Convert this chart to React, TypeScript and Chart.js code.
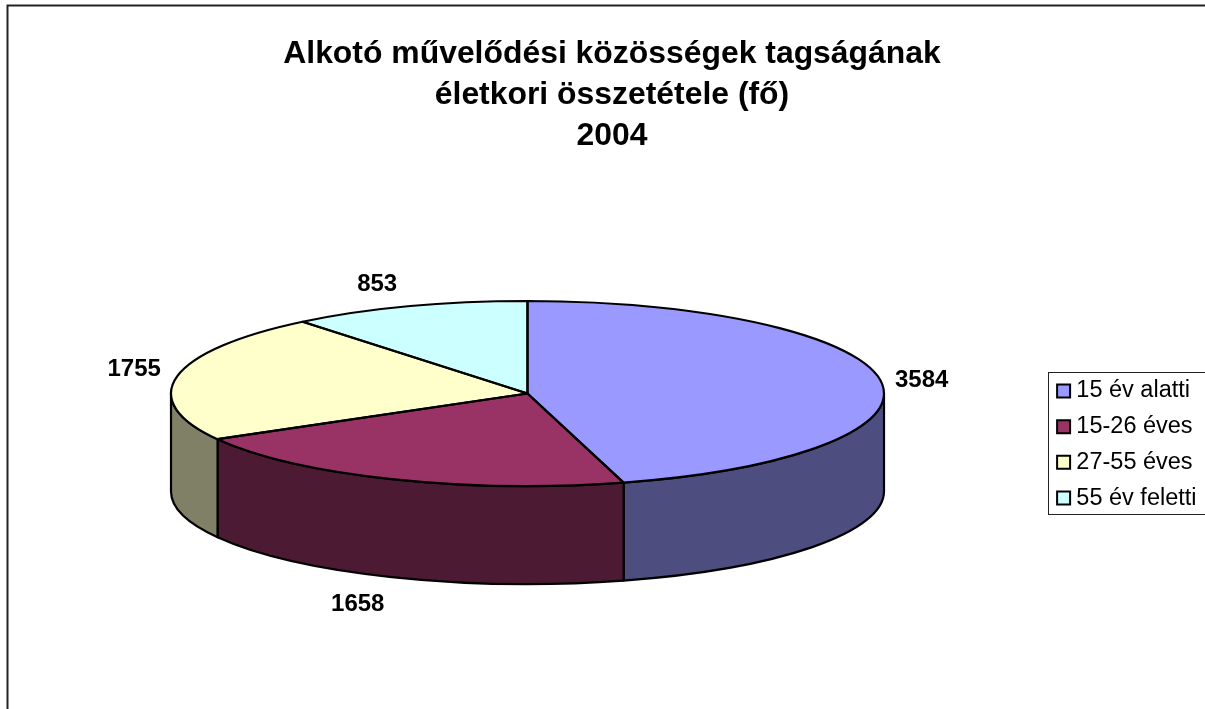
import React, { useEffect, useRef } from "react";
import { Chart, registerables } from "chart.js";

Chart.register(...registerables);

const FONT = '"Liberation Sans", Arial, sans-serif';

const categories = ["15 év alatti", "15-26 éves", "27-55 éves", "55 év feletti"];
const values = [3584, 1658, 1755, 853];
const topColors = ["#9999FF", "#993366", "#FFFFCC", "#CCFFFF"];
const sideColors = ["#4D4D80", "#4D1A33", "#808066", "#668080"];
const titleLines = ["Alkotó művelődési közösségek tagságának", "életkori összetétele (fő)", "2004"];
// outward nudges for the value labels, in pixels from the rim of the pie
const labelNudges = [
  [41, -1],
  [-34, 125],
  [-43, -7],
  [-31, -22],
];

const PIE = { cx: 527.5, cy: 393.5, rx: 356.5, ry: 92.5, depth: 98 };

const pie3d = {
  id: "pie3d",
  beforeDatasetDraw(chart: any) {
    const ctx = chart.ctx;
    const arcs = chart.getDatasetMeta(0).data;
    ctx.save();
    ctx.lineWidth = 2.2;
    ctx.strokeStyle = "#000";
    ctx.lineJoin = "round";
    arcs.forEach((arc: any, i: number) => {
      const a = Math.max(arc.startAngle, 0);
      const b = Math.min(arc.endAngle, Math.PI);
      if (b <= a) return;
      ctx.beginPath();
      ctx.ellipse(PIE.cx, PIE.cy, PIE.rx, PIE.ry, 0, a, b);
      ctx.ellipse(PIE.cx, PIE.cy + PIE.depth, PIE.rx, PIE.ry, 0, b, a, true);
      ctx.closePath();
      ctx.fillStyle = sideColors[i];
      ctx.fill();
      ctx.stroke();
    });
    ctx.restore();
    const first = arcs[0];
    ctx.save();
    ctx.translate(PIE.cx, PIE.cy);
    ctx.scale(PIE.rx / first.outerRadius, PIE.ry / first.outerRadius);
    ctx.translate(-first.x, -first.y);
  },
  afterDatasetDraw(chart: any) {
    const ctx = chart.ctx;
    ctx.restore();
    const arcs = chart.getDatasetMeta(0).data;
    ctx.save();
    ctx.lineWidth = 2.2;
    ctx.strokeStyle = "#000";
    ctx.lineJoin = "round";
    arcs.forEach((arc: any) => {
      ctx.beginPath();
      ctx.moveTo(PIE.cx, PIE.cy);
      ctx.ellipse(PIE.cx, PIE.cy, PIE.rx, PIE.ry, 0, arc.startAngle, arc.endAngle);
      ctx.closePath();
      ctx.stroke();
    });
    ctx.font = `bold 24px ${FONT}`;
    ctx.fillStyle = "#000";
    ctx.textAlign = "center";
    ctx.textBaseline = "middle";
    arcs.forEach((arc: any, i: number) => {
      const mid = (arc.startAngle + arc.endAngle) / 2;
      const x = PIE.cx + PIE.rx * Math.cos(mid) + labelNudges[i][0];
      const y = PIE.cy + PIE.ry * Math.sin(mid) + labelNudges[i][1];
      ctx.fillText(String(values[i]), x, y);
    });
    ctx.restore();
  },
  afterLayout(chart: any) {
    const legend = chart.legend;
    const h = legend.bottom - legend.top;
    legend.left = 1050.4;
    legend.right = 1205;
    legend.top = 367;
    legend.bottom = 367 + h;
  },
  afterDraw(chart: any) {
    const ctx = chart.ctx;
    ctx.save();
    ctx.strokeStyle = "#222";
    ctx.lineWidth = 2;
    ctx.strokeRect(7.5, 5.5, 1300, 800);
    ctx.lineWidth = 1;
    ctx.strokeStyle = "#222";
    ctx.strokeRect(1048.5, 372.5, 300, 142);
    ctx.restore();
  },
};

export default function App() {
  const ref = useRef<HTMLCanvasElement>(null);
  useEffect(() => {
    const chart = new Chart(ref.current!, {
      type: "pie",
      plugins: [pie3d],
      data: {
        labels: categories,
        datasets: [
          {
            data: values,
            backgroundColor: topColors,
            borderWidth: 0,
            radius: 300,
            clip: false,
          } as any,
        ],
      },
      options: {
        responsive: false,
        animation: false,
        layout: { padding: { left: 19, top: 33 } },
        plugins: {
          tooltip: { enabled: false },
          title: {
            display: true,
            text: titleLines,
            color: "#000",
            font: { family: FONT, size: 31.9, weight: "bold", lineHeight: 1.3 },
            padding: 0,
          },
          legend: {
            display: true,
            position: "right",
            align: "start",
            labels: {
              font: { family: FONT, size: 23.5 },
              color: "#000",
              usePointStyle: true,
              boxWidth: 2,
              boxHeight: 13,
              padding: 12.2,
              generateLabels: () =>
                categories.map((text, i) => ({
                  text,
                  fillStyle: topColors[i],
                  strokeStyle: "#000",
                  lineWidth: 2,
                  pointStyle: "rect",
                  index: i,
                  hidden: false,
                })),
            },
          },
        },
      },
    });
    return () => chart.destroy();
  }, []);
  return (
    <canvas
      ref={ref}
      width={1205}
      height={709}
      style={{ position: "fixed", left: 0, top: 0, display: "block", background: "#fff" }}
    />
  );
}
